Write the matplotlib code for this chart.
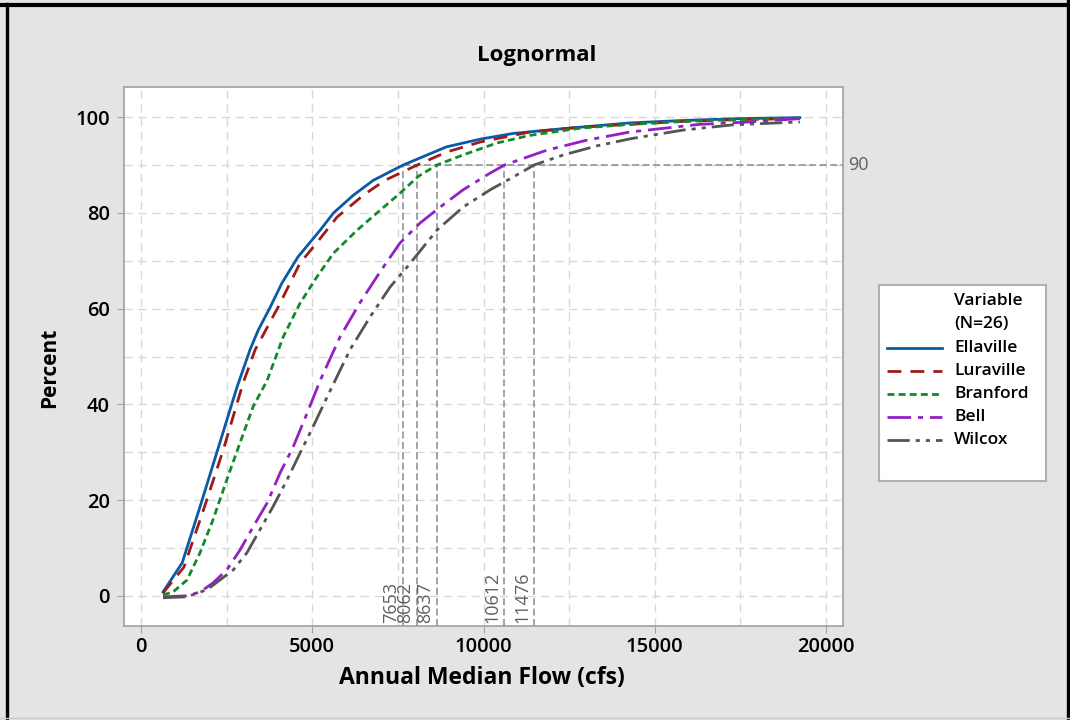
import numpy as np
import matplotlib
import matplotlib.pyplot as plt
from matplotlib.lines import Line2D

plt.rcParams['font.family'] = ['Open Sans', 'DejaVu Sans']
plt.rcParams['lines.scale_dashes'] = False

# Lognormal CDF curves (flow in cfs, cumulative percent)
ella_x = [640, 1200, 1720, 2300, 2800, 3180, 3420, 3770, 4110, 4580, 5230, 5620,
          6200, 6780, 7653, 8920, 9900, 10870, 12330, 14280, 15800, 17500, 19240]
ella_y = [0.8, 6.9, 18.6, 32.0, 43.6, 51.4, 55.5, 60.3, 65.3, 70.8, 76.4, 80.0,
          83.7, 86.8, 90.0, 93.8, 95.4, 96.6, 97.6, 98.8, 99.3, 99.7, 99.9]

lura_x = [640, 1250, 1800, 2400, 2980, 3330, 4000, 4640, 5080, 5720, 6490, 7120,
          8062, 8920, 9900, 11360, 12820, 14280, 15800, 17500, 19240]
lura_y = [0.6, 6.0, 17.5, 30.5, 44.5, 51.4, 60.3, 69.5, 73.3, 79.1, 83.7, 86.8,
          90.0, 92.7, 94.8, 96.9, 97.9, 98.5, 99.1, 99.5, 99.7]

bran_x = [640, 930, 1340, 1720, 2100, 2500, 2890, 3270, 3680, 4150, 4640, 5130,
          5620, 6310, 6890, 7560, 8090, 8637, 9400, 10390, 11360, 12820, 14280,
          15800, 17500, 19240]
bran_y = [0.2, 0.8, 3.3, 9.0, 15.9, 24.2, 32.0, 39.5, 45.0, 54.1, 61.1, 66.6,
          71.6, 76.4, 80.0, 84.1, 87.6, 90.0, 92.1, 94.6, 96.2, 97.7, 98.5,
          99.1, 99.5, 99.8]

bell_x = [640, 1340, 1720, 2100, 2500, 2890, 3270, 3680, 4060, 4440, 4850, 5230,
          5810, 6390, 6980, 7560, 8150, 8730, 9400, 10190, 10612, 11850, 13020,
          14280, 16320, 17780, 19240]
bell_y = [-0.2, 0.0, 0.8, 2.7, 5.4, 9.6, 14.4, 19.4, 25.7, 31.1, 38.2, 45.0,
          54.1, 61.2, 67.7, 73.7, 77.9, 81.2, 84.8, 88.3, 90.0, 93.1, 95.2,
          96.9, 98.5, 99.0, 99.7]

wilc_x = [640, 1340, 1930, 2300, 2690, 3090, 3470, 3850, 4260, 4640, 5020, 5430,
          6100, 6690, 7270, 7770, 8640, 9400, 10190, 10870, 11476, 12330, 13310,
          14300, 15830, 17290, 19240]
wilc_y = [-0.4, -0.2, 1.3, 3.3, 5.4, 9.0, 13.8, 18.6, 24.2, 29.8, 35.3, 41.5,
          51.4, 58.3, 64.5, 68.7, 76.4, 81.2, 84.8, 87.5, 90.0, 92.1, 94.0,
          95.5, 97.3, 98.4, 99.0]

names = ['Ellaville', 'Luraville', 'Branford', 'Bell', 'Wilcox']
xs = [ella_x, lura_x, bran_x, bell_x, wilc_x]
ys = [ella_y, lura_y, bran_y, bell_y, wilc_y]
colors = ['#0b5aa8', '#9e1b1b', '#13892b', '#9320c6', '#555555']
styles = ['-', (0, (10, 6.5)), (0, (5, 3)), (0, (17, 5, 3.6, 5)),
          (0, (16, 4.3, 3, 4.3, 3, 4.3))]

# 90th percentile flows
p90 = 90
p90_flows = [7653, 8062, 8637, 10612, 11476]

fig = plt.figure(figsize=(10.7, 7.2), dpi=100, facecolor='#e4e4e4')
ax = fig.add_axes([124 / 1070, 1 - 626 / 720, 719 / 1070, 539 / 720])
ax.set_facecolor('white')

ax.set_xlim(-500, 20500)
ax.set_ylim(-6.3, 106.3)

# grid
for gx in np.arange(0, 20001, 2500):
    ax.axvline(gx, color='#d8d8d8', lw=1, ls=(0, (6, 4)), zorder=0)
for gy in np.arange(0, 101, 10):
    ax.axhline(gy, color='#d8d8d8', lw=1, ls=(0, (6, 4)), zorder=0)

for x, y, c, s, n in zip(xs, ys, colors, styles, names):
    ax.plot(x, y, color=c, ls=s, lw=2.0, label=n, zorder=3)

# reference lines
ref_col = '#8a8a8a'
ax.plot([min(p90_flows), 20500], [p90, p90], color=ref_col, lw=1.1,
        ls=(0, (5, 2.5)), zorder=2, clip_on=False)
for v in p90_flows:
    ax.plot([v, v], [-6.3, p90], color=ref_col, lw=1.1, ls=(0, (5, 2.5)), zorder=2)
    ax.annotate(str(v), xy=(v, -6.3), xytext=(-2, 2), textcoords='offset points',
                rotation=90, ha='right', va='bottom', fontsize=13, color='#606060')
ax.annotate('90', xy=(20500, p90), xytext=(4, 0), textcoords='offset points',
            ha='left', va='center', fontsize=13, color='#606060',
            annotation_clip=False)

ax.set_xticks(np.arange(0, 20001, 5000))
ax.set_yticks(np.arange(0, 101, 20))
ax.tick_params(axis='both', direction='out', length=5, color='#a0a0a0',
               labelsize=14.5, labelcolor='black')
ax.tick_params(axis='x', pad=3)
ax.tick_params(axis='y', pad=5)
for lab in ax.get_xticklabels() + ax.get_yticklabels():
    lab.set_fontweight('semibold')
for sp in ax.spines.values():
    sp.set_color('#a0a0a0')
    sp.set_linewidth(1.2)

fig.text(537 / 1070, 1 - 55 / 720, 'Lognormal', ha='center', va='center',
         fontsize=16, fontweight='bold')
fig.text(482 / 1070, 1 - 678 / 720, 'Annual Median Flow (cfs)', ha='center',
         va='center', fontsize=16.5, fontweight='bold')
fig.text(50 / 1070, 1 - 368 / 720, 'Percent', ha='center', va='center',
         rotation=90, fontsize=15, fontweight='bold')

# legend box drawn by hand
lax = fig.add_axes([879 / 1070, 1 - 481 / 720, 167 / 1070, 196 / 720])
lax.set_xlim(0, 167)
lax.set_ylim(196, 0)
lax.set_xticks([])
lax.set_yticks([])
lax.set_facecolor('white')
for sp in lax.spines.values():
    sp.set_color('#b0b0b0')
    sp.set_linewidth(1.5)
lax.text(75, 16, 'Variable', va='center', ha='left', fontsize=12.5, fontweight='semibold')
lax.text(75, 39.5, '(N=26)', va='center', ha='left', fontsize=12.5, fontweight='semibold')
for i, (c, s, n) in enumerate(zip(colors, styles, names)):
    yy = 62.5 + 23.2 * i
    lax.plot([8, 63], [yy, yy], color=c, ls=s, lw=2.0)
    lax.text(75, yy, n, va='center', ha='left', fontsize=12.5, fontweight='semibold')

# outer frame
fig.add_artist(Line2D([6.5 / 1070, 6.5 / 1070], [0, 1 - 4 / 720], color='black', lw=2.4))
fig.add_artist(Line2D([0, 1], [1 - 5 / 720, 1 - 5 / 720], color='black', lw=3))
fig.add_artist(Line2D([1067.5 / 1070, 1067.5 / 1070], [0, 1], color='black', lw=2.4))
fig.add_artist(Line2D([0, 1], [2.5 / 720, 2.5 / 720], color='#c8c8c8', lw=1))

fig.savefig('out.png', dpi=100, facecolor=fig.get_facecolor())
